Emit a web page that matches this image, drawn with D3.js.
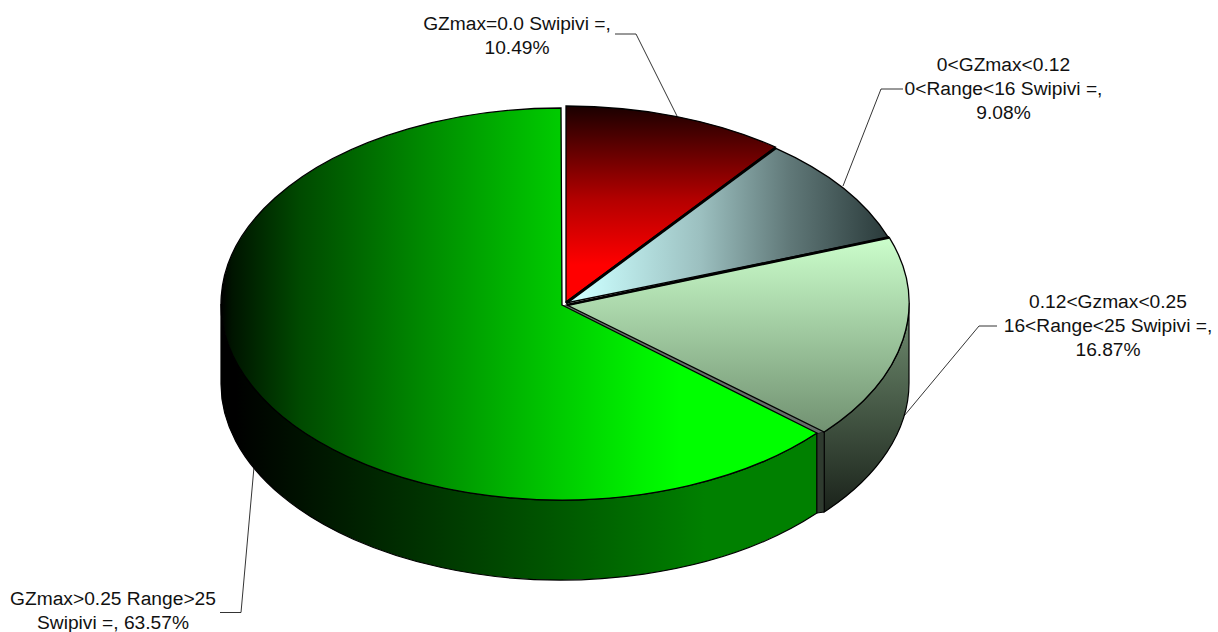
<!DOCTYPE html>
<html><head><meta charset="utf-8">
<style>html,body{margin:0;padding:0;background:#fff}svg{display:block}text{font-family:"Liberation Sans",Arial,sans-serif;font-size:19.2px;fill:#111;text-anchor:middle}</style>
<script src="https://cdnjs.cloudflare.com/ajax/libs/d3/7.9.0/d3.min.js"></script>
</head><body><svg id="c" width="1218" height="632"></svg>
<script>
const categories = ["GZmax=0.0","0<GZmax<0.12","0.12<Gzmax<0.25","GZmax>0.25"];
const shares = [10.49, 9.08, 16.87, 63.57];
const labelLines = [
  ["GZmax=0.0 Swipivi =,","10.49%"],
  ["0<GZmax<0.12","0<Range<16 Swipivi =,","9.08%"],
  ["0.12<Gzmax<0.25","16<Range<25 Swipivi =,","16.87%"],
  ["GZmax>0.25 Range>25","Swipivi =, 63.57%"]
];

const svg = d3.select("#c"), defs = svg.append("defs");
const arcs = d3.pie().sort(null).value(d=>d)(shares);
const depth = 80;
const geo = [
  {c:[566,302], apex:[566,302], rx:342, ry:196},
  {c:[566,303], apex:[566,303], rx:342, ry:196},
  {c:[566,303], apex:[567,305], rx:343, ry:196},
  {c:[561,304], apex:[562,305], rx:340, ry:196}
];
function grad(id,x1,y1,x2,y2,stops){
  const g=defs.append("linearGradient").attr("id",id).attr("gradientUnits","userSpaceOnUse")
    .attr("x1",x1).attr("y1",y1).attr("x2",x2).attr("y2",y2);
  stops.forEach(([o,c])=>g.append("stop").attr("offset",o).attr("stop-color",c));
}
// stop offsets are normalised from pixel positions along each gradient
const nx=(a,b,arr)=>arr.map(([p,c])=>[(p-a)/(b-a),c]);
grad("t0",0,106,0,265,nx(106,265,[[106,"#1a0000"],[200,"#b40000"],[265,"#ff0000"]]));
grad("t1",580,0,888,0,nx(580,888,[[580,"#ccffff"],[700,"#9cc0c0"],[790,"#607878"],[888,"#2a3a3a"]]));
grad("t2",0,236,0,432,[[0,"#ccffcc"],[1,"#719171"]]);
grad("t3",221,0,680,0,nx(221,680,[[221,"#000000"],[232,"#001400"],[300,"#004a00"],[420,"#008800"],[553,"#00c800"],[640,"#00f000"],[680,"#00ff00"]]));
grad("s2",0,310,0,513,[[0,"#6f8c6f"],[1,"#1a221a"]]);
grad("s3",221,0,705,0,[[0,"#000000"],[0.03,"#000000"],[1,"#008000"]]);

const pt=(g,a,dy=0)=>[g.c[0]+g.rx*Math.sin(a), g.c[1]-g.ry*Math.cos(a)+dy];
function topFace(i){
  const g=geo[i],a=arcs[i],p0=pt(g,a.startAngle),p1=pt(g,a.endAngle);
  const large=a.endAngle-a.startAngle>Math.PI?1:0;
  return `M${g.apex}L${p0}A${g.rx} ${g.ry} 0 ${large} 1 ${p1}Z`;
}
function sideFace(i,a0,a1){
  const g=geo[i],p0=pt(g,a0),p1=pt(g,a1),q1=pt(g,a1,depth),q0=pt(g,a0,depth);
  return `M${p0}A${g.rx} ${g.ry} 0 0 1 ${p1}L${q1}A${g.rx} ${g.ry} 0 0 0 ${q0}Z`;
}

// leader lines
const leaders=[
  [[615,34],[636,34],[677,116]],
  [[903,89],[881,89],[843,186]],
  [[997,326],[979,326],[904,416]],
  [[220,612.5],[241,612.5],[254,467]]
];
svg.append("g").selectAll("path").data(leaders).join("path")
  .attr("d",d3.line()).attr("fill","none").attr("stroke","#000").attr("stroke-width",0.8);

// sides
svg.append("path").attr("d",sideFace(3,arcs[3].startAngle,3*Math.PI/2)).attr("fill","url(#s3)").attr("stroke","#000").attr("stroke-width",1.2);
svg.append("path").attr("d",sideFace(2,Math.PI/2,arcs[2].endAngle)).attr("fill","url(#s2)").attr("stroke","#000").attr("stroke-width",1.2);
const cg=pt(geo[3],arcs[3].startAngle), ct=pt(geo[2],arcs[2].endAngle);
svg.append("path").attr("d",d3.line()([cg,ct,[ct[0],ct[1]+depth],[cg[0],cg[1]+depth]])+"Z").attr("fill","#2f3b2f").attr("stroke","#000").attr("stroke-width",1);

// inner face visible between the large slice and its neighbour
svg.append("path").attr("d",d3.line()([geo[3].apex,geo[2].apex,ct,cg])+"Z").attr("fill","#66706a");

// top faces
svg.append("g").selectAll("path").data([3,2,1,0]).join("path")
  .attr("d",topFace).attr("fill",i=>`url(#t${i})`).attr("stroke","#000")
  .attr("stroke-width",1.3).attr("stroke-linejoin","miter");

// heavy dividers between the upper slices
svg.append("g").selectAll("line").data([0,1]).join("line")
  .attr("x1",i=>geo[i+1].apex[0]).attr("y1",i=>geo[i+1].apex[1])
  .attr("x2",i=>pt(geo[i+1],arcs[i].endAngle)[0]).attr("y2",i=>pt(geo[i+1],arcs[i].endAngle)[1])
  .attr("stroke","#000").attr("stroke-width",2.8);

// labels
const anchors=[[517,30],[1003.5,71],[1108,308],[113,605]];
const lab=svg.append("g").selectAll("text").data(labelLines).join("text")
  .attr("transform",(d,i)=>`translate(${anchors[i]})`);
lab.selectAll("tspan").data(d=>d).join("tspan").attr("x",0).attr("y",(d,i)=>i*(i===1&&d.startsWith("Swipivi")?23.5:24)).text(d=>d);
</script></body></html>
